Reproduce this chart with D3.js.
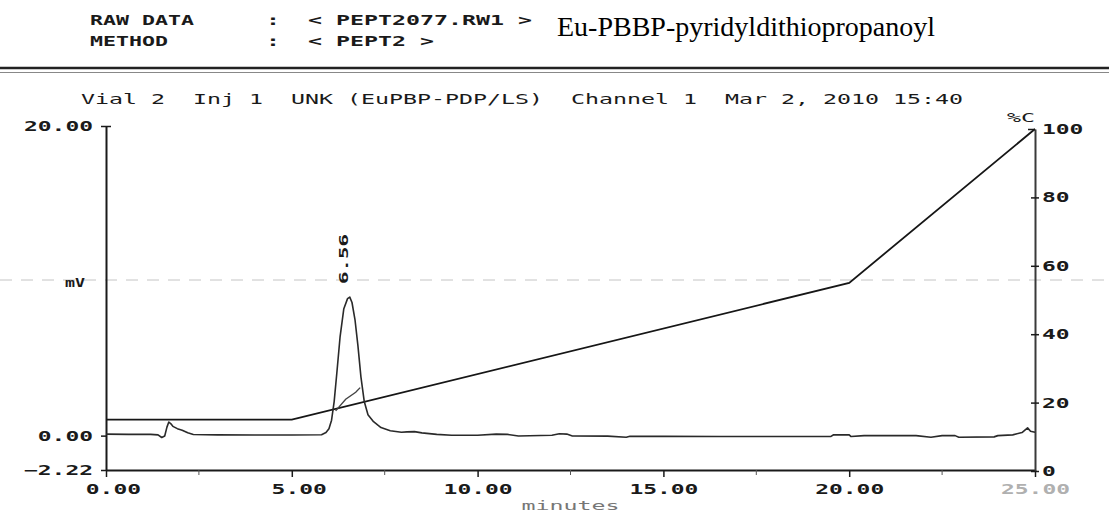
<!DOCTYPE html>
<html>
<head>
<meta charset="utf-8">
<script src="https://cdn.jsdelivr.net/npm/d3@7"></script>
<style>
  html, body { margin: 0; padding: 0; background: #fff; }
  svg { display: block; }
</style>
</head>
<body>
<div id="chart"></div>
<script>
// run header
const rawFile = "< PEPT2077.RW1 >"
const methodFile = "< PEPT2 >"
const sampleName = "Eu-PBBP-pyridyldithiopropanoyl"
const runInfo = "Vial 2  Inj 1  UNK (EuPBP-PDP/LS)  Channel 1  Mar 2, 2010 15:40"

// axes
const timeTicks = [0, 5, 10, 15, 20, 25]
const timeMinorTicks = [2.5, 7.5, 12.5, 17.5, 22.5]
const mvTicks = [-2.22, 0, 20]
const pctTicks = [0, 20, 40, 60, 80, 100]

// solvent gradient (%C)
const gradTime = [0, 5, 20, 25]
const gradPct = [15, 15, 55, 100]

// detector trace, channel 1 (mV)
const traceMin = [0.00, 0.60, 1.20, 1.40, 1.50, 1.58, 1.64, 1.69, 1.74, 1.80, 1.92, 2.05, 2.20, 2.35, 3.00, 4.00, 5.00, 5.80,
  5.92, 6.00, 6.07, 6.14, 6.21, 6.30, 6.40, 6.50, 6.56, 6.62, 6.70, 6.78, 6.86, 6.95, 7.05, 7.20, 7.40, 7.65, 7.95,
  8.10, 8.30, 8.50, 8.90, 9.30, 10.00, 10.50, 10.80, 11.10, 12.00, 12.20, 12.40, 12.55, 13.50, 14.00, 14.10, 15.00,
  16.50, 18.00, 19.50, 19.58, 20.00, 20.05, 20.40, 21.00, 21.80, 22.20, 22.50, 22.85, 22.95, 23.90, 24.00, 24.40,
  24.65, 24.80, 24.88, 25.00]
const traceMv = [0.10, 0.08, 0.08, 0.05, -0.12, -0.02, 0.55, 0.88, 0.78, 0.60, 0.45, 0.35, 0.18, 0.07, 0.05, 0.04, 0.04, 0.06,
  0.20, 0.45, 1.00, 2.20, 4.00, 6.40, 8.20, 8.85, 8.95, 8.60, 7.50, 5.80, 3.80, 2.20, 1.35, 0.90, 0.52, 0.32, 0.22,
  0.24, 0.26, 0.18, 0.08, 0.02, 0.02, 0.10, 0.08, -0.02, 0.02, 0.12, 0.10, -0.02, -0.03, -0.10, -0.04, -0.05,
  -0.06, -0.06, -0.06, 0.06, 0.05, -0.06, 0.00, 0.00, 0.00, -0.10, 0.00, 0.00, -0.10, -0.08, 0.00, 0.05,
  0.20, 0.50, 0.28, 0.22]

// small inner trace under the main peak
const innerMin = [6.18, 6.45, 6.72, 6.84]
const innerMv = [1.60, 2.35, 2.80, 3.10]

const peakTime = 6.56

const width = 1109
const height = 512
const ink = "#1a1a1a"
const mono = "'DejaVu Sans Mono', monospace"

const svg = d3.select("#chart").append("svg")
  .attr("width", width)
  .attr("height", height)

const x = d3.scaleLinear().domain([0, 25]).range([106, 1035])
const yL = d3.scaleLinear().domain([-2.22, 20]).range([470, 126])
const yR = d3.scaleLinear().domain([0, 100]).range([471, 129])

// stretch the monospace glyphs to the wide printer cell
function cell(sel, step) {
  sel.each(function() {
    const t = d3.select(this)
    const n = t.text().length
    t.attr("textLength", n * step).attr("lengthAdjust", "spacingAndGlyphs")
  })
  return sel
}

function monoText(px, py, str, opts = {}) {
  const t = svg.append("text")
    .attr("x", px)
    .attr("y", py)
    .attr("font-family", mono)
    .attr("font-size", opts.size || 14)
    .attr("font-weight", opts.weight || "bold")
    .attr("fill", opts.color || ink)
    .attr("text-anchor", opts.anchor || "start")
    .attr("xml:space", "preserve")
    .style("white-space", "pre")
    .text(str)
  return cell(t, opts.step || 14)
}

// header block
monoText(90, 25, "RAW DATA", { step: 13 })
monoText(90, 46, "METHOD", { step: 13 })
monoText(266, 25, ":")
monoText(266, 46, ":")
monoText(308, 25, rawFile)
monoText(308, 46, methodFile)

svg.append("text")
  .attr("x", 557)
  .attr("y", 36)
  .attr("font-family", "'Liberation Serif', 'Times New Roman', serif")
  .attr("font-size", 28)
  .attr("fill", "#000")
  .text(sampleName)

svg.append("line")
  .attr("x1", 0).attr("x2", width)
  .attr("y1", 68).attr("y2", 68)
  .attr("stroke", "#222").attr("stroke-width", 2.5)
svg.append("line")
  .attr("x1", 0).attr("x2", width)
  .attr("y1", 72.5).attr("y2", 72.5)
  .attr("stroke", "#888").attr("stroke-width", 1)

monoText(81, 104, runInfo, { weight: "normal" })

// faint dashed fold line
svg.append("line")
  .attr("x1", 0).attr("x2", width)
  .attr("y1", 280).attr("y2", 280)
  .attr("stroke", "#c4c4c4").attr("stroke-width", 1)
  .attr("stroke-dasharray", "12 9")

// bottom axis
const gx = svg.append("g")
  .attr("transform", `translate(0,${yL(-2.22)})`)
  .call(d3.axisBottom(x).tickValues(timeTicks).tickSize(7).tickSizeOuter(0)
    .tickFormat(d => d3.format(".2f")(d).padStart(5, " ")))
gx.select(".domain").attr("stroke", ink).attr("stroke-width", 2)
gx.selectAll(".tick line").attr("stroke", ink).attr("stroke-width", 1.5)
gx.selectAll(".tick text")
  .attr("font-family", mono).attr("font-size", 14).attr("font-weight", "bold").attr("fill", ink)
  .attr("y", 14).attr("dy", "0.71em")
  .attr("xml:space", "preserve").style("white-space", "pre")
cell(gx.selectAll(".tick text"), 13.8)
gx.selectAll(".tick").filter(d => d === 25).select("text").attr("fill", "#b0b0b0")

svg.append("g")
  .selectAll("line")
  .data(timeMinorTicks)
  .join("line")
  .attr("x1", d => x(d)).attr("x2", d => x(d))
  .attr("y1", yL(-2.22)).attr("y2", yL(-2.22) + 5)
  .attr("stroke", "#555").attr("stroke-width", 1)

monoText(x(12.5), 510, "minutes", { color: "#777", size: 12, anchor: "middle", weight: "normal" })

// left axis (mV)
const gl = svg.append("g")
  .attr("transform", `translate(${x(0)},0)`)
  .call(d3.axisLeft(yL).tickValues(mvTicks).tickSize(5).tickSizeOuter(0)
    .tickFormat(d3.format(".2f")))
gl.select(".domain").attr("stroke", ink).attr("stroke-width", 2)
gl.selectAll(".tick line").attr("stroke", ink).attr("stroke-width", 1.5)
gl.selectAll(".tick text")
  .attr("font-family", mono).attr("font-size", 14).attr("font-weight", "bold").attr("fill", ink)
  .attr("x", -13)
cell(gl.selectAll(".tick text"), 13.8)
gl.selectAll(".tick").filter(d => d === 20).select("line").attr("x2", 5).attr("x1", -5)

monoText(75, 287, "mV", { anchor: "middle", step: 10, size: 13 })

// right axis (%C)
const gr = svg.append("g")
  .attr("transform", `translate(${x(25)},0)`)
  .call(d3.axisRight(yR).tickValues(pctTicks).tickSize(4).tickSizeOuter(0))
gr.select(".domain").attr("stroke", "#3a3a3a").attr("stroke-width", 2)
gr.selectAll(".tick line").attr("stroke", ink).attr("stroke-width", 1.5).attr("x1", -4)
gr.selectAll(".tick").filter(d => d === 100).select("line").attr("x1", -7).attr("x2", 0)
gr.selectAll(".tick text")
  .attr("font-family", mono).attr("font-size", 14).attr("font-weight", "bold").attr("fill", ink)
  .attr("x", 7)
cell(gr.selectAll(".tick text"), 13.8)

monoText(x(25) - 28, 122, "%C", { step: 14, size: 13, weight: "normal" })

// gradient line
const grad = gradTime.map((t, i) => [t, gradPct[i]])
svg.append("path")
  .datum(grad)
  .attr("fill", "none")
  .attr("stroke", "#161616")
  .attr("stroke-width", 1.8)
  .attr("d", d3.line().x(d => x(d[0])).y(d => yR(d[1])))

// chromatogram
const trace = traceMin.map((t, i) => [t, traceMv[i]])
const mvLine = d3.line().x(d => x(d[0])).y(d => yL(d[1]))
svg.append("path")
  .datum(trace)
  .attr("fill", "none")
  .attr("stroke", "#2a2a2a")
  .attr("stroke-width", 1.6)
  .attr("stroke-linejoin", "round")
  .attr("d", mvLine)

const inner = innerMin.map((t, i) => [t, innerMv[i]])
svg.append("path")
  .datum(inner)
  .attr("fill", "none")
  .attr("stroke", "#444")
  .attr("stroke-width", 1.4)
  .attr("d", mvLine)

// retention time label, printed sideways
svg.append("text")
  .attr("transform", `translate(${x(peakTime) - 2},284) rotate(-90)`)
  .attr("font-family", mono)
  .attr("font-size", 13)
  .attr("font-weight", "bold")
  .attr("fill", ink)
  .attr("textLength", 50)
  .attr("lengthAdjust", "spacingAndGlyphs")
  .text(peakTime.toFixed(2))
</script>
</body>
</html>
